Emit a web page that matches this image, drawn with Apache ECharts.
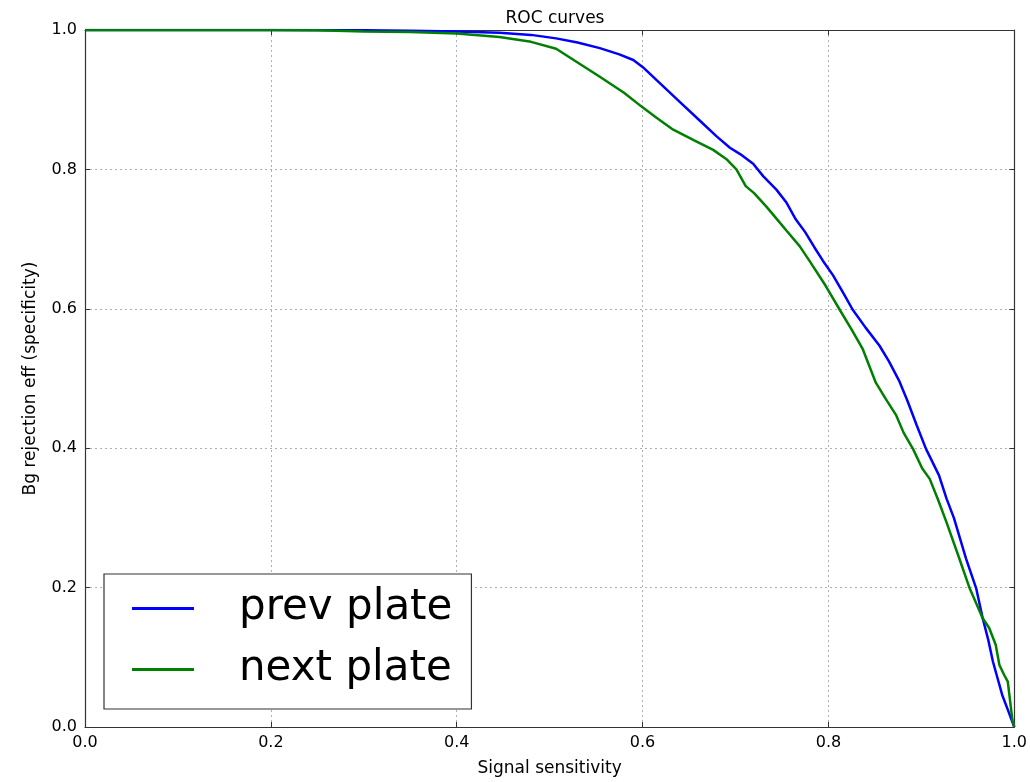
<!DOCTYPE html>
<html>
<head>
<meta charset="utf-8">
<title>ROC curves</title>
<script src="https://cdn.jsdelivr.net/npm/echarts@6/dist/echarts.min.js"></script>
<style>
  html, body { margin: 0; padding: 0; background: #fff; }
  #chart { width: 1030px; height: 782px; }
</style>
</head>
<body>
<div id="chart"></div>
<script>
// Signal sensitivity (x) and background rejection efficiency (y) for each plate
const prevPlateX = [0.0, 0.1, 0.2, 0.3, 0.35, 0.40, 0.446, 0.48, 0.507, 0.53, 0.554, 0.575, 0.59, 0.600,
  0.62, 0.64, 0.66, 0.68, 0.694, 0.705, 0.719, 0.73, 0.744, 0.755, 0.765, 0.775, 0.785, 0.794, 0.805,
  0.815, 0.826, 0.84, 0.855, 0.865, 0.876, 0.885, 0.895, 0.905, 0.912, 0.919, 0.927, 0.935, 0.948,
  0.959, 0.966, 0.972, 0.977, 0.982, 0.987, 0.993, 1.0];
const prevPlateY = [1.0, 1.0, 1.0, 0.9995, 0.999, 0.998, 0.996, 0.993, 0.988, 0.982, 0.974, 0.965, 0.957, 0.947,
  0.922, 0.897, 0.872, 0.847, 0.831, 0.822, 0.808, 0.790, 0.771, 0.752, 0.728, 0.710, 0.688, 0.669, 0.648,
  0.625, 0.599, 0.573, 0.547, 0.525, 0.497, 0.468, 0.433, 0.399, 0.380, 0.361, 0.328, 0.300, 0.242,
  0.199, 0.156, 0.125, 0.094, 0.070, 0.046, 0.025, 0.0];

const nextPlateX = [0.0, 0.1, 0.2, 0.25, 0.3, 0.35, 0.40, 0.446, 0.48, 0.507, 0.52, 0.554, 0.58, 0.600,
  0.615, 0.633, 0.655, 0.676, 0.69, 0.701, 0.711, 0.72, 0.733, 0.745, 0.755, 0.769, 0.78, 0.797, 0.812,
  0.825, 0.837, 0.851, 0.862, 0.873, 0.881, 0.891, 0.901, 0.909, 0.918, 0.927, 0.94, 0.952, 0.966,
  0.973, 0.980, 0.984, 0.989, 0.993, 0.998, 1.0];
const nextPlateY = [1.0, 1.0, 1.0, 0.9995, 0.998, 0.997, 0.995, 0.990, 0.983, 0.973, 0.962, 0.933, 0.910, 0.889,
  0.874, 0.857, 0.842, 0.828, 0.815, 0.800, 0.776, 0.766, 0.747, 0.728, 0.712, 0.690, 0.668, 0.633, 0.599,
  0.570, 0.542, 0.494, 0.470, 0.447, 0.422, 0.399, 0.371, 0.356, 0.326, 0.294, 0.245, 0.199, 0.156,
  0.142, 0.118, 0.089, 0.075, 0.065, 0.010, 0.0];

const seriesNames = ['prev plate', 'next plate'];
const seriesColors = ['#0000ff', '#008000'];

const FONT = 'DejaVu Sans';
const pairs = (xs, ys) => xs.map((x, i) => [x, ys[i]]);
const fmt = v => v.toFixed(1);

const gridLine = { show: true, lineStyle: { color: '#b0b0b0', type: [2, 3], width: 1 } };
const frameLine = { show: true, onZero: false, lineStyle: { color: '#333', width: 1.2 } };
const innerTick = { show: true, inside: true, length: 5, lineStyle: { color: '#333' } };

const chart = echarts.init(document.getElementById('chart'));
chart.setOption({
  animation: false,
  backgroundColor: '#fff',
  title: {
    text: 'ROC curves',
    left: 550,
    textAlign: 'center',
    top: 5,
    textStyle: { fontFamily: FONT, fontSize: 17, fontWeight: 'normal', color: '#000' }
  },
  grid: { left: 85, right: 15, top: 30, bottom: 53, containLabel: false },
  xAxis: [
    {
      type: 'value', min: 0, max: 1, interval: 0.2, position: 'bottom',
      name: 'Signal sensitivity', nameLocation: 'middle', nameGap: 33,
      nameTextStyle: { fontFamily: FONT, fontSize: 17, color: '#000' },
      axisLine: frameLine, axisTick: innerTick, splitLine: gridLine,
      axisLabel: { formatter: fmt, margin: 8, fontFamily: FONT, fontSize: 16, color: '#000' }
    },
    {
      type: 'value', min: 0, max: 1, interval: 0.2, position: 'top',
      axisLine: frameLine, axisTick: innerTick, splitLine: { show: false },
      axisLabel: { show: false }
    }
  ],
  yAxis: [
    {
      type: 'value', min: 0, max: 1, interval: 0.2, position: 'left',
      name: 'Bg rejection eff (specificity)', nameLocation: 'middle', nameGap: 46,
      nameTextStyle: { fontFamily: FONT, fontSize: 17, color: '#000' },
      axisLine: frameLine, axisTick: innerTick, splitLine: gridLine,
      axisLabel: { formatter: fmt, margin: 8, fontFamily: FONT, fontSize: 16, color: '#000' }
    },
    {
      type: 'value', min: 0, max: 1, interval: 0.2, position: 'right',
      axisLine: frameLine, axisTick: innerTick, splitLine: { show: false },
      axisLabel: { show: false }
    }
  ],
  legend: {
    orient: 'vertical',
    left: 104,
    top: 574,
    padding: [11, 19, 16, 28],
    backgroundColor: '#fff',
    borderColor: '#333',
    borderWidth: 1.2,
    borderRadius: 0,
    icon: 'rect',
    itemWidth: 62,
    itemHeight: 3,
    itemGap: 14,
    data: seriesNames,
    textStyle: {
      fontFamily: FONT, fontSize: 42, lineHeight: 47, color: '#000',
      padding: [0, 0, 0, 40]
    }
  },
  series: [
    {
      name: seriesNames[0], type: 'line', xAxisIndex: 0, yAxisIndex: 0,
      data: pairs(prevPlateX, prevPlateY),
      showSymbol: false, symbol: 'none',
      lineStyle: { color: seriesColors[0], width: 2.5 },
      itemStyle: { color: seriesColors[0] }, z: 3
    },
    {
      name: seriesNames[1], type: 'line', xAxisIndex: 0, yAxisIndex: 0,
      data: pairs(nextPlateX, nextPlateY),
      showSymbol: false, symbol: 'none',
      lineStyle: { color: seriesColors[1], width: 2.5 },
      itemStyle: { color: seriesColors[1] }, z: 4
    }
  ]
});
</script>
</body>
</html>
